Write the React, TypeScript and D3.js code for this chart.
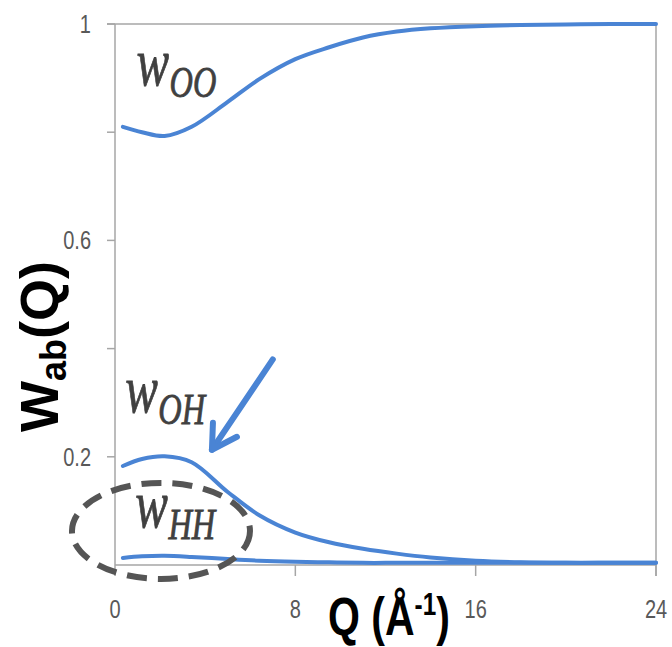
import * as d3 from 'd3';
import React from 'react';

const qValues = [0.35, 1.2, 2.2, 3.4, 5, 6.4, 8, 9.5, 11, 12.5, 14, 16, 18, 20, 22, 24];
const wOO = [0.81, 0.8, 0.793, 0.81, 0.856, 0.898, 0.935, 0.957, 0.975, 0.986, 0.992, 0.996, 0.998, 0.999, 1.0, 1.0];
const wOH = [0.183, 0.196, 0.201, 0.19, 0.135, 0.092, 0.06, 0.042, 0.03, 0.021, 0.014, 0.008, 0.005, 0.004, 0.004, 0.004];
const wHH = [0.013, 0.016, 0.017, 0.015, 0.011, 0.008, 0.006, 0.005, 0.004, 0.004, 0.004, 0.004, 0.004, 0.004, 0.004, 0.004];

const xTicks = [0, 8, 16, 24];
const yTicks = [0.2, 0.4, 0.6, 0.8, 1];
const yTickLabels = ['0.2', '', '0.6', '', '1'];

const width = 672;
const height = 647;
const margin = { top: 24, right: 16, bottom: 82, left: 115 };

const blue = '#4a84d4';
const axisGray = '#a6a6a6';
const textGray = '#595959';
const labelGray = '#404040';
const sans = '"Liberation Sans", Arial, sans-serif';
const serif = '"Liberation Serif", "DejaVu Serif", serif';

function WLabel({ x, y, sub }: { x: number; y: number; sub: string }) {
  // italic serif w with italic subscript, squeezed horizontally
  return (
    <g transform={`translate(${x},${y}) scale(0.72,1)`} fill={labelGray} stroke={labelGray} strokeWidth={0.8}
      fontFamily={serif} fontStyle="italic">
      <text x={0} y={0} fontSize={68}>w</text>
      <text x={46} y={12} fontSize={45}>{sub}</text>
    </g>
  );
}

// narrow tick label: Liberation Sans squeezed
function Tick({ x, y, anchor, children }: { x: number; y: number; anchor: string; children: React.ReactNode }) {
  return (
    <text transform={`translate(${x},${y}) scale(0.8,1)`} textAnchor={anchor} fontFamily={sans} fontSize={25} fill={textGray}>
      {children}
    </text>
  );
}

export default function App() {
  const x = d3.scaleLinear().domain([0, 24]).range([margin.left, width - margin.right]);
  const y = d3.scaleLinear().domain([0, 1]).range([height - margin.bottom, margin.top]);

  const line = d3.line<number>()
    .x((_, i) => x(qValues[i]))
    .y(d => y(d))
    .curve(d3.curveCatmullRom.alpha(0.5));

  const x0 = x(0), x1 = x(24), y0 = y(0), y1 = y(1);

  return (
    <svg width={width} height={height} style={{ position: 'absolute', left: 0, top: 0 }}>
      <rect width={width} height={height} fill="#fff" />
      {/* frame */}
      <line x1={x0 - 8} x2={x1} y1={y1} y2={y1} stroke={axisGray} strokeWidth={1.5} />
      <line x1={x0} x2={x0} y1={y1} y2={y0} stroke={axisGray} strokeWidth={1.5} />
      <line x1={x1} x2={x1} y1={y1} y2={y0 + 11} stroke={axisGray} strokeWidth={1.5} />
      <line x1={x0} x2={x1} y1={y0} y2={y0} stroke={axisGray} strokeWidth={1.5} />
      {yTicks.map((t, i) => (
        <g key={t}>
          <line x1={x0 - 8} x2={x0} y1={y(t)} y2={y(t)} stroke={axisGray} strokeWidth={1.5} />
          <Tick x={x0 - 24} y={y(t) + 9} anchor="end">{yTickLabels[i]}</Tick>
        </g>
      ))}
      {xTicks.map(t => (
        <g key={t}>
          <line x1={x(t)} x2={x(t)} y1={y0} y2={y0 + 11} stroke={axisGray} strokeWidth={1.5} />
          <Tick x={x(t)} y={y0 + 53} anchor="middle">{t}</Tick>
        </g>
      ))}

      {/* series */}
      {[wOO, wOH, wHH].map((s, i) => (
        <path key={i} d={line(s) || ''} fill="none" stroke={blue} strokeWidth={4} strokeLinecap="round" />
      ))}

      {/* annotations */}
      <WLabel x={x(0.95)} y={y(0.887)} sub="OO" />
      <WLabel x={x(0.45)} y={y(0.283)} sub="OH" />
      <WLabel x={x(0.9)} y={y(0.07)} sub="HH" />

      <ellipse cx={x(2.04)} cy={y(0.063)} rx={89} ry={48} fill="none" stroke="#555" strokeWidth={6} strokeDasharray="20 11" />

      <g stroke={blue} strokeWidth={6} strokeLinecap="round" strokeLinejoin="round" fill="none">
        <line x1={x(7)} y1={y(0.38)} x2={x(4.3)} y2={y(0.213)} />
        <polyline points={`${x(4.3) + 1},${y(0.213) - 27} ${x(4.3)},${y(0.213)} ${x(4.3) + 25},${y(0.213) - 13}`} />
      </g>

      {/* axis titles */}
      <text transform="translate(328,635) scale(0.76,1)" fontFamily={sans} fontWeight="bold" fontSize={54} fill="#000">
        Q (Å<tspan dy={-20} fontSize={32}>-1</tspan><tspan dy={20}>)</tspan>
      </text>
      <text transform="translate(58,432) rotate(-90)" fontFamily={sans} fontWeight="bold" fontSize={54} fill="#000">
        W<tspan dy={8} fontSize={36}>ab</tspan><tspan dy={-8}>(Q)</tspan>
      </text>
    </svg>
  );
}
